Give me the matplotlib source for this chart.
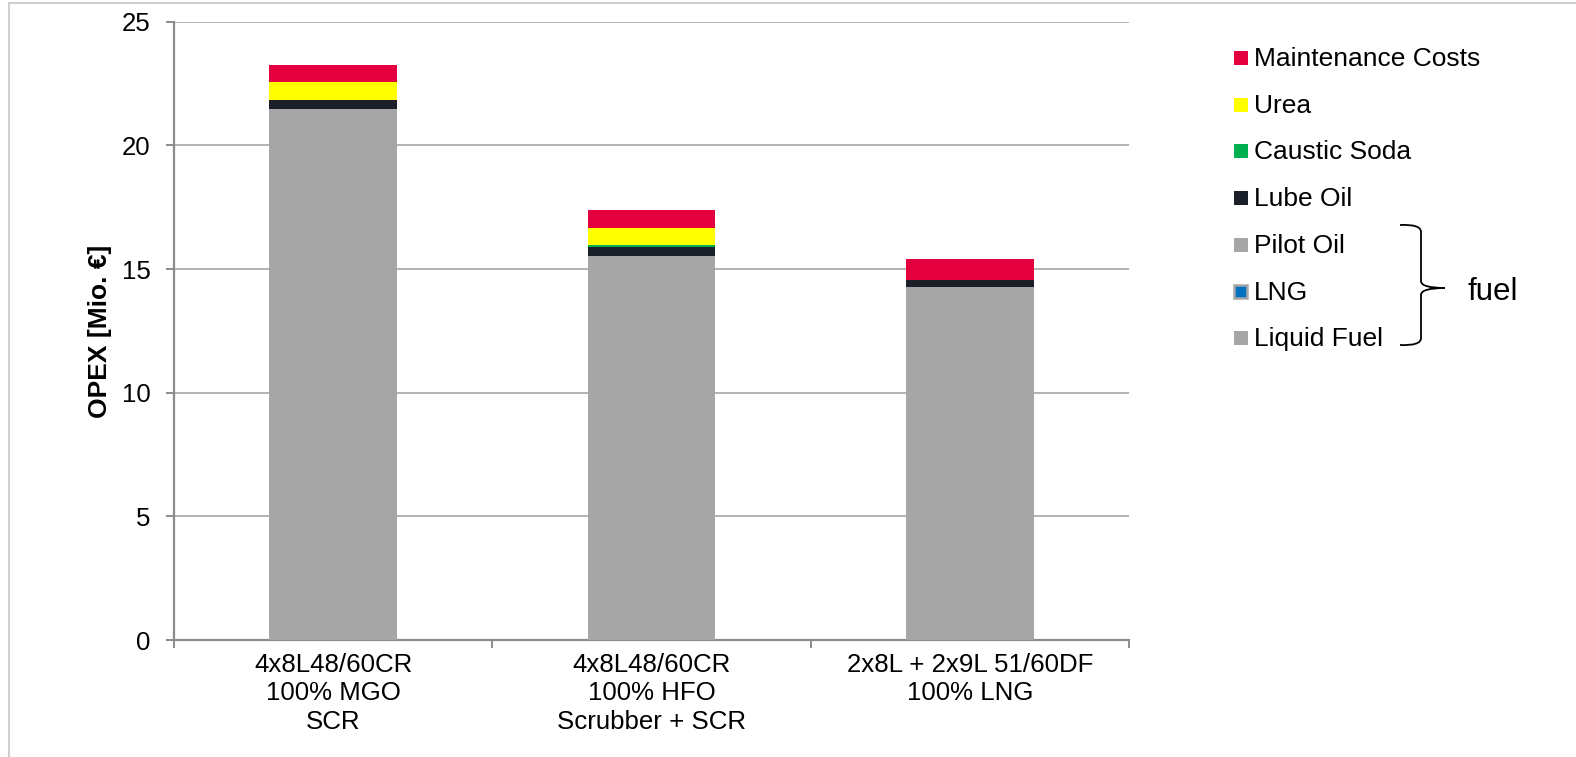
import matplotlib
matplotlib.use("Agg")
import matplotlib.pyplot as plt
from matplotlib.patches import Rectangle
from matplotlib.path import Path
from matplotlib.patches import PathPatch
import numpy as np

plt.rcParams['font.family'] = ['Liberation Sans', 'DejaVu Sans']

categories = ["4x8L48/60CR\n100% MGO\nSCR",
              "4x8L48/60CR\n100% HFO\nScrubber + SCR",
              "2x8L + 2x9L 51/60DF\n100% LNG"]
liquid_fuel = [21.46, 15.53, 0.0]
lng = [0.0, 0.0, 13.96]
pilot_oil = [0.0, 0.0, 0.30]
lube_oil = [0.39, 0.37, 0.31]
caustic_soda = [0.0, 0.07, 0.0]
urea = [0.70, 0.70, 0.0]
maintenance = [0.70, 0.72, 0.82]
yticks = [0, 5, 10, 15, 20, 25]

GRAY = "#A6A6A6"
colors = {
    "Liquid Fuel": GRAY,
    "LNG": GRAY,
    "Pilot Oil": GRAY,
    "Lube Oil": "#1A1F28",
    "Caustic Soda": "#00B050",
    "Urea": "#FFFF00",
    "Maintenance Costs": "#E4003F",
}
series = [("Liquid Fuel", liquid_fuel), ("LNG", lng), ("Pilot Oil", pilot_oil),
          ("Lube Oil", lube_oil), ("Caustic Soda", caustic_soda),
          ("Urea", urea), ("Maintenance Costs", maintenance)]

FS = 18.6
W, H = 1576, 757
fig = plt.figure(figsize=(W / 100, H / 100), dpi=100)
ax = fig.add_axes([174 / W, 1 - 640 / H, (1129 - 174) / W, (640 - 21.7) / H])

x = np.arange(len(categories))
bottom = np.zeros(len(categories))
for name, vals in series:
    vals = np.array(vals)
    ax.bar(x, vals, width=0.4, bottom=bottom, color=colors[name], zorder=3, linewidth=0)
    bottom += vals

ax.set_xlim(-0.5, 2.5)
ax.set_ylim(0, 25)
ax.set_yticks(yticks)
ax.set_yticklabels([str(t) for t in yticks], fontsize=FS)
ax.yaxis.grid(True, color="#A6A6A6", linewidth=1.2, zorder=0)
ax.set_axisbelow(True)
for s in ["top", "right"]:
    ax.spines[s].set_visible(False)
for s in ["left", "bottom"]:
    ax.spines[s].set_color("#8C8C8C")
    ax.spines[s].set_linewidth(1.6)
ax.tick_params(axis="y", length=6, width=1.4, color="#8C8C8C", pad=11)
ax.set_xticks(x)
ax.set_xticklabels(categories, fontsize=FS, linespacing=1.26)
ax.tick_params(axis="x", which="major", length=0, pad=9)
ax.set_xticks([-0.5, 0.5, 1.5, 2.5], minor=True)
ax.tick_params(axis="x", which="minor", length=6, width=1.4, color="#8C8C8C")

# overlay in pixel coordinates
ov = fig.add_axes([0, 0, 1, 1], facecolor="none")
ov.set_xlim(0, W)
ov.set_ylim(H, 0)
ov.axis("off")

# figure border (top and left)
ov.plot([9, W], [3.3, 3.3], color="#D0D0D0", lw=1.5)
ov.plot([9.3, 9.3], [3.3, H], color="#D0D0D0", lw=1.5)

ov.text(100, 331, "OPEX [Mio. \u20ac]", rotation=90, ha="center", va="center",
        fontsize=19, fontweight="bold")

legend_items = ["Maintenance Costs", "Urea", "Caustic Soda", "Lube Oil",
                "Pilot Oil", "LNG", "Liquid Fuel"]
legend_colors = [colors["Maintenance Costs"], colors["Urea"], colors["Caustic Soda"],
                 colors["Lube Oil"], GRAY, "#0070C0", GRAY]
for i, (lab, col) in enumerate(zip(legend_items, legend_colors)):
    yc = 58 + i * 46.7
    if lab == "LNG":
        ov.add_patch(Rectangle((1234.5, yc - 6.5), 13, 13, facecolor=col,
                               edgecolor=GRAY, linewidth=1.8))
    else:
        ov.add_patch(Rectangle((1234, yc - 7), 14, 14, facecolor=col, edgecolor="none"))
    ov.text(1254, yc + 1, lab, fontsize=19, va="center", ha="left")

# brace
verts = [(1400, 225), (1421, 224), (1421, 232), (1421, 236),
         (1421, 281), (1421, 288), (1445, 288)]
codes = [Path.MOVETO, Path.CURVE3, Path.CURVE3, Path.LINETO,
         Path.LINETO, Path.CURVE3, Path.CURVE3]
ov.add_patch(PathPatch(Path(verts, codes), facecolor="none", edgecolor="black", lw=1.3))
verts2 = [(1400, 345), (1421, 346), (1421, 338), (1421, 334),
          (1421, 295), (1421, 288), (1445, 288)]
ov.add_patch(PathPatch(Path(verts2, codes), facecolor="none", edgecolor="black", lw=1.3))
ov.text(1468, 292, "fuel", fontsize=22.5, va="center", ha="left")

fig.savefig("out.png", dpi=100)
